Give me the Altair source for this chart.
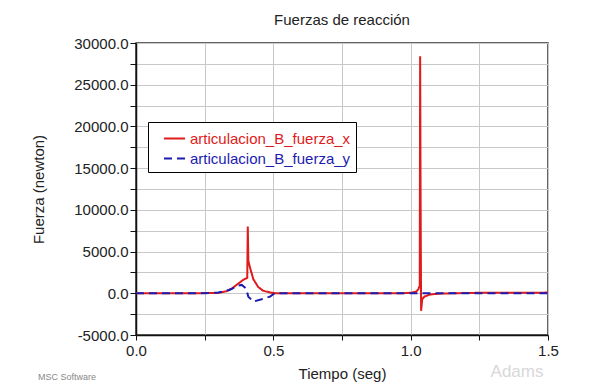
import altair as alt
import pandas as pd

# ---- data ----
series_names = ["articulacion_B_fuerza_x", "articulacion_B_fuerza_y"]

t_x = [0.0, 0.2, 0.3, 0.33, 0.35, 0.37, 0.39, 0.405, 0.407, 0.409, 0.415, 0.427,
       0.445, 0.463, 0.488, 0.51, 0.9, 0.98, 1.0, 1.02, 1.028, 1.033, 1.0345,
       1.036, 1.038, 1.042, 1.05, 1.07, 1.1, 1.15, 1.25, 1.5]
f_x = [0, 0, 50, 250, 600, 1100, 1600, 1850, 8000, 3900, 3100, 1700,
       750, 300, 100, 0, 0, 20, 60, 200, 500, 900, 28400,
       12800, -2100, -700, -400, -150, -50, 0, 60, 80]

t_y = [0.0, 0.25, 0.3, 0.34, 0.37, 0.385, 0.4, 0.409, 0.427, 0.457, 0.488, 0.5,
       0.52, 1.0, 1.5]
f_y = [0, 0, 100, 400, 900, 1000, 600, -400, -1000, -720, -400, -100,
       0, 0, 0]

x_ticks = [0.0, 0.25, 0.5, 0.75, 1.0, 1.25, 1.5]
y_ticks = [-5000, -2500, 0, 2500, 5000, 7500, 10000, 12500, 15000, 17500,
           20000, 22500, 25000, 27500, 30000]

df = pd.concat([
    pd.DataFrame({"t": t_x, "f": f_x, "serie": series_names[0]}),
    pd.DataFrame({"t": t_y, "f": f_y, "serie": series_names[1]}),
])

FONT = "Liberation Sans"
RED = "#e01b1b"
BLUE = "#1c1cb0"
NBSP3 = "\u00a0\u00a0\u00a0"


def make_legend():
    return alt.Legend(
        title=None,
        orient="none",
        legendX=12,
        legendY=79,
        fillColor="white",
        strokeColor="black",
        padding=5,
        labelFont=FONT,
        labelFontSize=15,
        labelLimit=400,
        labelExpr=f"datum.label + '{NBSP3}'",
        labelColor={"expr": f"datum.value == '{series_names[0]}' ? '{RED}' : '{BLUE}'"},
        symbolType="stroke",
        symbolSize=441,
        symbolStrokeWidth=2,
        symbolOffset=10,
        labelOffset=4,
        rowPadding=-3,
    )


lines = alt.Chart(df).mark_line(strokeWidth=2, clip=True).encode(
    x=alt.X(
        "t:Q",
        scale=alt.Scale(domain=[0, 1.5], nice=False),
        axis=alt.Axis(
            title="Tiempo (seg)",
            values=x_ticks,
            labelExpr="(datum.value*4) % 2 == 0 ? format(datum.value, '.1f') : ''",
            labelFlush=False,
            labelOverlap=False,
            tickSize=5,
            labelPadding=3,
            titlePadding=8,
        ),
    ),
    y=alt.Y(
        "f:Q",
        scale=alt.Scale(domain=[-5000, 30000], nice=False),
        axis=alt.Axis(
            title="Fuerza (newton)",
            values=y_ticks,
            labelExpr="datum.value % 5000 == 0 ? replace(format(datum.value, '.1f'), '\u2212', '-') : ''",
            labelOverlap=False,
            tickSize=6,
            labelPadding=2,
            titlePadding=27,
        ),
    ),
    color=alt.Color(
        "serie:N",
        scale=alt.Scale(domain=series_names, range=[RED, BLUE]),
        legend=make_legend(),
    ),
    strokeDash=alt.StrokeDash(
        "serie:N",
        scale=alt.Scale(domain=series_names, range=[[1, 0], [8, 5]]),
        legend=make_legend(),
    ),
)

msc = alt.Chart(pd.DataFrame({"label": ["MSC Software"]})).mark_text(
    font=FONT, fontSize=9, color="#888", align="center", baseline="middle"
).encode(x=alt.value(-69), y=alt.value(334), text="label:N")

adams = alt.Chart(pd.DataFrame({"label": ["Adams"]})).mark_text(
    font=FONT, fontSize=17, color="#d8d8d8", align="center", baseline="middle"
).encode(x=alt.value(381), y=alt.value(329), text="label:N")

chart = alt.layer(lines, msc, adams).properties(
    width=412,
    height=292,
    title=alt.TitleParams(
        "Fuerzas de reacción",
        font=FONT,
        fontSize=15,
        fontWeight="normal",
        color="#222",
        offset=8,
    ),
    autosize=alt.AutoSizeParams(type="none"),
    padding={"left": 128, "top": 35, "right": 36, "bottom": 52},
).configure_view(
    stroke="#333", strokeWidth=1.5
).configure_axis(
    labelFont=FONT,
    labelFontSize=15,
    labelColor="#222",
    titleFont=FONT,
    titleFontSize=15,
    titleFontWeight="normal",
    titleColor="#222",
    domainColor="#111",
    domainWidth=1.5,
    tickColor="#111",
    gridColor="#c8c8c8",
    gridWidth=1,
)

chart.save("out.html", embed_options={"renderer": "svg", "actions": False})
